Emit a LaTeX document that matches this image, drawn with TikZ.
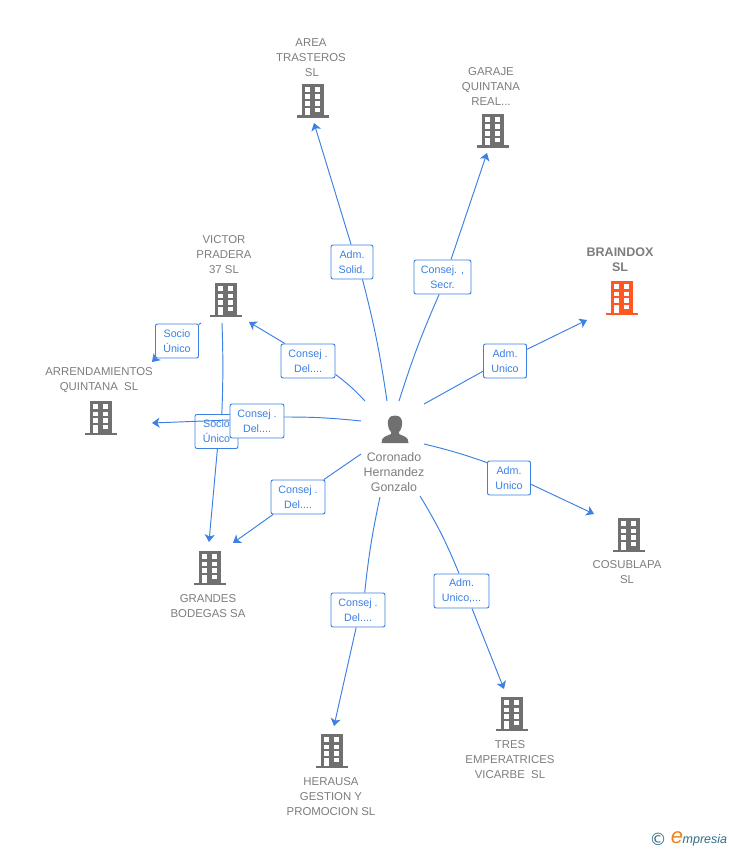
\documentclass[tikz,border=0pt]{standalone}
\usepackage{fontspec}
\setmainfont{Liberation Sans}
\newfontfamily\dejavu{DejaVu Sans}
\usetikzlibrary{arrows.meta}
\definecolor{linkblue}{RGB}{59,128,226}
\definecolor{labelgrey}{RGB}{125,125,125}
\definecolor{icongrey}{RGB}{112,112,112}
\definecolor{iconorange}{RGB}{255,87,34}
\definecolor{logoteal}{RGB}{44,110,135}
\definecolor{logoorange}{RGB}{240,130,30}
\tikzset{
  link/.style={draw=linkblue,line width=0.95pt},
  linkarrow/.style={link,-{Stealth[length=7.5pt,width=10pt,inset=2pt]}},
  rolebox/.style={draw=linkblue,line width=0.95pt,fill=white,rounded corners=2pt,text=linkblue,
    inner sep=0pt,align=center,minimum height=34pt,font=\fontsize{10.7}{15}\selectfont},
  entity/.style={text=labelgrey,align=center,font=\fontsize{11.4}{15}\selectfont,inner sep=0pt},
  pics/building/.style={code={
    \fill[#1] (-11,-17) rectangle (11,17);
    \fill[#1] (-16,14.5) rectangle (16,17);
    \foreach \yy in {-13.7,-6.5,0.4}{
      \fill[white] (-7.7,\yy) rectangle (-2.7,\yy+4.6);
      \fill[white] (2.3,\yy) rectangle (7.3,\yy+4.6);
    }
    \fill[white] (-7.7,7) rectangle (-2.7,14.5);
    \fill[white] (2.3,7) rectangle (7.3,11.4);
  }}
}
\begin{document}
\begin{tikzpicture}[x=1pt,y=-1pt]
\useasboundingbox (0,0) rectangle (728,850);
% buildings
\pic at (313,101) {building=icongrey};
\pic at (493,131) {building=icongrey};
\pic at (226,300) {building=icongrey};
\pic at (622,298) {building=iconorange};
\pic at (101,418) {building=icongrey};
\pic at (629,535) {building=icongrey};
\pic at (210,568) {building=icongrey};
\pic at (512,714) {building=icongrey};
\pic at (332,751) {building=icongrey};
% person
\fill[icongrey] (395,415.5) .. controls (388.5,415.5) and (387.5,420) .. (388,425)
  .. controls (388.5,429) and (390,431) .. (391,432) -- (391,434)
  .. controls (386,436.5) and (381.5,436.5) .. (381.5,443) -- (408.5,443)
  .. controls (408.5,436.5) and (404,436.5) .. (399,434) -- (399,432)
  .. controls (400,431) and (401.5,429) .. (402,425)
  .. controls (402.5,420) and (401.5,415.5) .. (395,415.5) -- cycle;
% entity names
\node[entity] (area) at (311,57.5) {AREA\\TRASTEROS\\ \,SL};
\node[entity] (garaje) at (491,86.5) {GARAJE\\QUINTANA\\REAL...};
\node[entity] (victor) at (224,254.5) {VICTOR\\PRADERA\\37 SL};
\node[entity,font=\fontsize{12.5}{15}\selectfont\bfseries] (braindox) at (620,260) {BRAINDOX\\SL};
\node[entity] (arrend) at (99,380) {ARRENDAMIENTOS\\QUINTANA\ \ SL};
\node[entity] (cosub) at (627,572) {COSUBLAPA\\SL};
\node[entity] (grandes) at (208,606) {GRANDES\\BODEGAS SA};
\node[entity] (tres) at (510,759.5) {TRES\\EMPERATRICES\\VICARBE\ \ SL};
\node[entity] (herausa) at (331,796.5) {HERAUSA\\GESTION Y\\PROMOCION SL};
\node[entity,font=\fontsize{12.4}{15}\selectfont] (person) at (394,472) {Coronado\\Hernandez\\Gonzalo};
% connector ends
\coordinate (sArea) at (387,401);      \coordinate (eArea) at (314,123);
\coordinate (sGaraje) at (399,401);    \coordinate (eGaraje) at (487,153);
\coordinate (sVictor) at (365,401);    \coordinate (eVictor) at (249,322);
\coordinate (sBrain) at (424,404);     \coordinate (eBrain) at (587,320);
\coordinate (sArrend) at (361,421);    \coordinate (eArrend) at (152,423);
\coordinate (sCosub) at (424,444);     \coordinate (eCosub) at (594,514);
\coordinate (sGrandes) at (361,454);   \coordinate (eGrandes) at (233,543);
\coordinate (sTres) at (420,496);      \coordinate (eTres) at (504,689);
\coordinate (sHerausa) at (380,497);   \coordinate (eHerausa) at (334,726);
\coordinate (sVA) at (201,323);        \coordinate (eVA) at (152,362);
\coordinate (sVG) at (222,323);        \coordinate (eVG) at (209,542);
% role boxes beneath the crossing arrow
\node[rolebox,minimum width=43pt] (rVA) at (177,341) {Socio\\Único};
\node[rolebox,minimum width=43pt] (rVG) at (216.5,431.5) {Socio\\Único};
\draw[link] (sVA) -- (rVA.37);
\draw[linkarrow] (rVA.-141) -- (eVA);
\draw[link] (sVG) to[bend left=2] (rVG.73.5);
\draw[linkarrow] (rVG.-87) -- (eVG);
% remaining role boxes
\node[rolebox,minimum width=42pt] (rArea) at (352,262) {Adm.\\Solid.};
\node[rolebox,minimum width=57pt] (rGaraje) at (442.5,277) {Consej. ,\\Secr.};
\node[rolebox,minimum width=54pt] (rVictor) at (308,361) {Consej .\\Del....};
\node[rolebox,minimum width=43pt] (rBrain) at (505,361) {Adm.\\Unico};
\node[rolebox,minimum width=43pt] (rCosub) at (509,478) {Adm.\\Unico};
\node[rolebox,minimum width=54pt] (rGrandes) at (298,497) {Consej .\\Del....};
\node[rolebox,minimum width=55pt] (rTres) at (461.5,591) {Adm.\\Unico,...};
\node[rolebox,minimum width=54pt] (rHerausa) at (358,610) {Consej .\\Del....};
\draw[link] (sArea) to[bend right=3] (rArea.-59.5);
\draw[linkarrow] (rArea.93) -- (eArea);
\draw[link] (sGaraje) to[bend left=3] (rGaraje.-101.6);
\draw[linkarrow] (rGaraje.64.2) -- (eGaraje);
\draw[link] (sVictor) to[bend right=5] (rVictor.-26.2);
\draw[linkarrow] (rVictor.143.9) -- (eVictor);
\draw[link] (sBrain) -- (rBrain.-155);
\draw[linkarrow] (rBrain.28) -- (eBrain);
\draw[link] (sCosub) to[bend left=3] (rCosub.145.6);
\draw[linkarrow] (rCosub.-16.2) -- (eCosub);
\draw[link] (sGrandes) -- (rGrandes.34.2);
\draw[linkarrow] (rGrandes.-145.8) -- (eGrandes);
\draw[link] (sTres) to[bend left=4.5] (rTres.98);
\draw[linkarrow] (rTres.-59) -- (eTres);
\draw[link] (sHerausa) to[bend right=3] (rHerausa.69.7);
\draw[linkarrow] (rHerausa.-96.7) -- (eHerausa);
% arrow crossing over the Socio box, then its own box on top
\coordinate (rArrendR) at (284,417);
\coordinate (rArrendL) at (230,420);
\draw[link] (sArrend) to[bend right=3] (rArrendR);
\draw[linkarrow] (rArrendL) -- (eArrend);
\node[rolebox,minimum width=54pt] (rArrend) at (257,421) {Consej .\\Del....};
% logo
\node[text=logoteal,font=\dejavu\fontsize{17}{17}\selectfont,inner sep=0pt] (logoC) at (658,839) {©};
\node[text=logoorange,font=\fontsize{22}{22}\selectfont\itshape,inner sep=0pt] (logoE) at (677,837.5) {e};
\node[text=logoteal,font=\fontsize{12.5}{13}\selectfont\itshape,inner sep=0pt,anchor=west] (logoT) at (682.5,840) {mpresia};
\end{tikzpicture}
\end{document}
